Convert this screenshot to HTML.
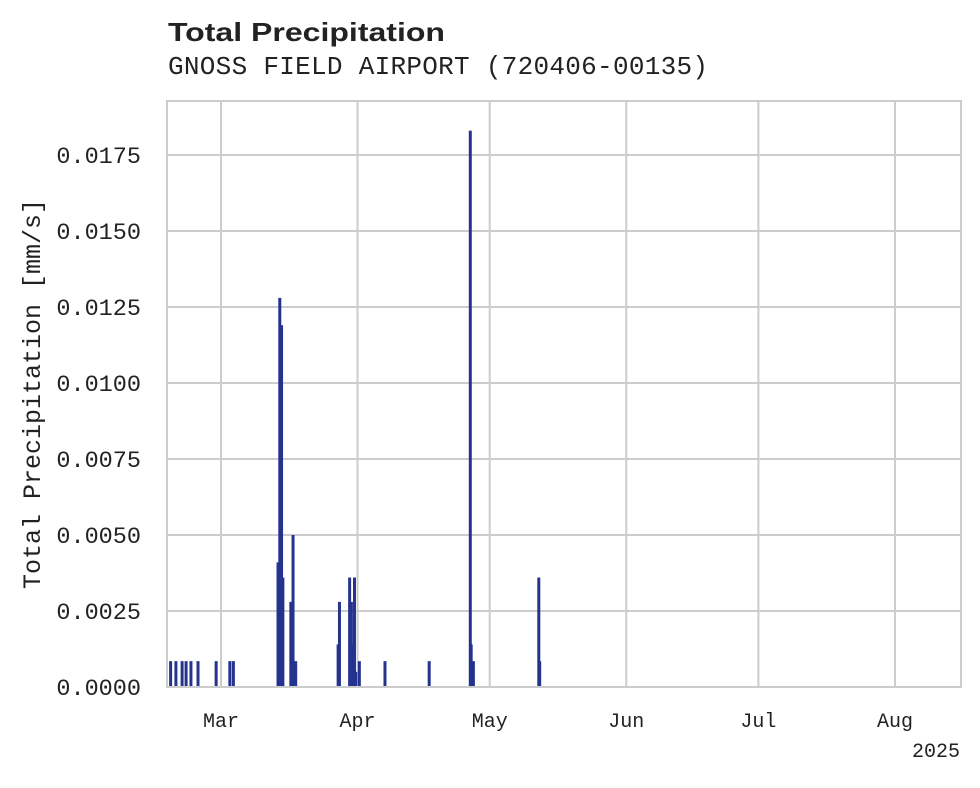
<!DOCTYPE html>
<html><head><meta charset="utf-8"><style>
body{margin:0;background:#fff;}
svg text{font-family:"Liberation Mono",monospace;fill:#222;}
</style></head><body>
<svg width="980" height="783" viewBox="0 0 980 783">
<text x="168" y="41" style="font-family:'Liberation Sans',sans-serif;font-weight:bold;font-size:26px" textLength="277" lengthAdjust="spacingAndGlyphs">Total Precipitation</text>
<text x="168" y="74" style="font-size:26px" textLength="540" lengthAdjust="spacing">GNOSS FIELD AIRPORT (720406-00135)</text>
<g id="grid"></g>
<g id="bars"></g>
<rect x="167" y="101" width="794" height="586" fill="none" stroke="#ccc" stroke-width="2"/>
<g id="axes"></g>
<text transform="translate(40,394) rotate(-90)" text-anchor="middle" style="font-size:25px">Total Precipitation [mm/s]</text>
<text x="960" y="757" text-anchor="end" style="font-size:20px">2025</text>
</svg>
<script>
// days offset from Mar 1, 2025
const days=[-11.4,-10.2,-8.8,-7.9,-6.8,-5.2,-1.1,2.0,2.8,12.9,13.3,13.7,14.0,15.8,16.3,16.9,26.5,26.8,29.1,29.5,29.8,30.2,30.5,31.3,37.1,47.1,56.4,56.6,57.1,71.9,72.1];
const values=[0.00085,0.00085,0.00085,0.00085,0.00085,0.00085,0.00085,0.00085,0.00085,0.0041,0.0128,0.0119,0.0036,0.0028,0.0050,0.00085,0.0014,0.0028,0.0036,0.0028,0.0014,0.0036,0.0005,0.00085,0.00085,0.00085,0.0183,0.0014,0.00085,0.0036,0.00085];
const yTicks=[0,0.0025,0.005,0.0075,0.01,0.0125,0.015,0.0175];
const yTickLabels=["0.0000","0.0025","0.0050","0.0075","0.0100","0.0125","0.0150","0.0175"];
const monthDays=[0,31,61,92,122,153];
const monthLabels=["Mar","Apr","May","Jun","Jul","Aug"];
const NS="http://www.w3.org/2000/svg";
const x=d=>221+d*4.42;
const xm=d=>221+d*4.405;
const y=v=>687-v*30400;
const grid=document.getElementById('grid'),axes=document.getElementById('axes'),bars=document.getElementById('bars');
function mk(tag,attrs,parent){const e=document.createElementNS(NS,tag);for(const k in attrs)e.setAttribute(k,attrs[k]);parent.appendChild(e);return e;}
yTicks.forEach((t,i)=>{
  const l=mk('line',{x1:167,x2:961,y1:y(t),y2:y(t),stroke:'#ccc','stroke-width':2},grid);
  
  
  const tx=mk('text',{x:141,y:y(t)+8,'text-anchor':'end','font-size':'23.5px'},axes);
  tx.textContent=yTickLabels[i];
  
  
});
monthDays.forEach((d,i)=>{
  const l=mk('line',{x1:xm(d),x2:xm(d),y1:101,y2:687,stroke:'#ccc','stroke-width':2},grid);
  
  
  const tx=mk('text',{x:xm(d),y:727,'text-anchor':'middle','font-size':'20px'},axes);
  tx.textContent=monthLabels[i];
  
  
});
days.forEach((d,i)=>{
  const r=mk('rect',{x:x(d)-1.5,y:y(values[i]),width:3,height:687-y(values[i]),fill:'#25338f'},bars);
  
  
});
</script>
</body></html>
